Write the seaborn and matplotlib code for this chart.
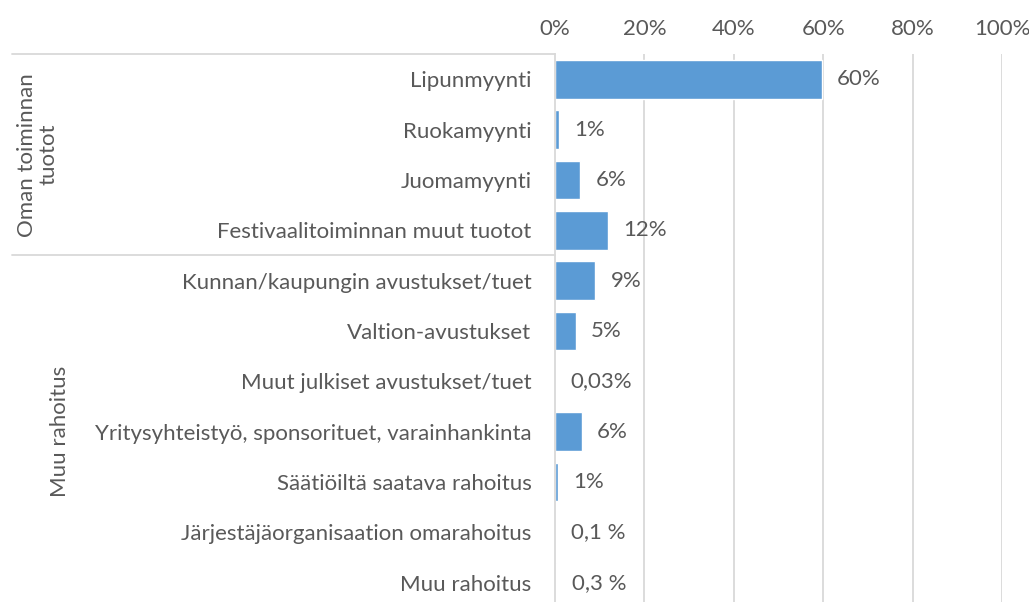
import matplotlib
matplotlib.use("Agg")
import matplotlib.pyplot as plt
import matplotlib.transforms as mtransforms
import seaborn as sns
import pandas as pd

categories = [
    "Lipunmyynti",
    "Ruokamyynti",
    "Juomamyynti",
    "Festivaalitoiminnan muut tuotot",
    "Kunnan/kaupungin avustukset/tuet",
    "Valtion-avustukset",
    "Muut julkiset avustukset/tuet",
    "Yritysyhteistyö, sponsorituet, varainhankinta",
    "Säätiöiltä saatava rahoitus",
    "Järjestäjäorganisaation omarahoitus",
    "Muu rahoitus",
]
values = [59.7, 0.9, 5.6, 11.9, 9.0, 4.7, 0.03, 6.0, 0.7, 0.1, 0.3]
value_labels = ["60%", "1%", "6%", "12%", "9%", "5%", "0,03%", "6%", "1%", "0,1 %", "0,3 %"]
groups = ["Oman toiminnan\ntuotot", "Muu rahoitus"]
group_sizes = [4, 7]
xticks = [0, 20, 40, 60, 80, 100]
xtick_labels = ["0%", "20%", "40%", "60%", "80%", "100%"]

TEXT = "#595959"
BAR = "#5B9BD5"
GRID = "#D9D9D9"
FS = 16

sns.set_theme(style="white")
plt.rcParams["font.family"] = ["Lato", "DejaVu Sans"]

df = pd.DataFrame({"cat": categories, "val": values})

fig = plt.figure(figsize=(10.29, 6.02), dpi=100)
ax = fig.add_axes([555 / 1029, 1 - 608 / 602, (1002 - 555) / 1029, (608 - 54) / 602])

sns.barplot(data=df, x="val", y="cat", orient="h", color=BAR, saturation=1,
            width=0.77, ax=ax)

ax.set_xlim(0, 100)
ax.set_ylim(len(categories) - 0.5, -0.5)
ax.xaxis.tick_top()
ax.set_xticks(xticks)
ax.set_xticklabels(xtick_labels, fontsize=FS, color=TEXT)
ax.tick_params(axis="x", length=0, pad=11)
ax.tick_params(axis="y", length=0, pad=17, labelsize=FS, labelcolor=TEXT)
ax.set_xlabel("")
ax.set_ylabel("")
for t in ax.get_yticklabels():
    t.set_color(TEXT)

for x in xticks[1:]:
    ax.axvline(x, color=GRID, lw=1.3, zorder=0)
for s in ["top", "right", "bottom"]:
    ax.spines[s].set_visible(False)
ax.spines["left"].set_color(GRID)
ax.spines["left"].set_linewidth(1.3)

for i, (v, lab) in enumerate(zip(values, value_labels)):
    ax.annotate(lab, xy=(v, i), xytext=(11, 0), textcoords="offset points",
                ha="left", va="center", fontsize=FS, color=TEXT)

# group separators and labels
trans = mtransforms.blended_transform_factory(fig.transFigure, ax.transData)
x0 = 12 / 1029
x1 = 555 / 1029
start = 0
ax.plot([x0, x1], [-0.5, -0.5], transform=trans, color=GRID, lw=1.3, clip_on=False)
for gi, (g, n) in enumerate(zip(groups, group_sizes)):
    end = start + n
    if end < len(categories):
        ax.plot([x0, x1], [end - 0.5, end - 0.5], transform=trans, color=GRID,
                lw=1.3, clip_on=False)
    center = (start + end - 1) / 2
    gx = (38 if "\n" in g else 60) / 1029
    ax.text(gx, center, g, transform=trans, rotation=90, ha="center", va="center",
            fontsize=FS, color=TEXT, linespacing=1.1, multialignment="center")
    start = end

fig.savefig("out.png", dpi=100)
